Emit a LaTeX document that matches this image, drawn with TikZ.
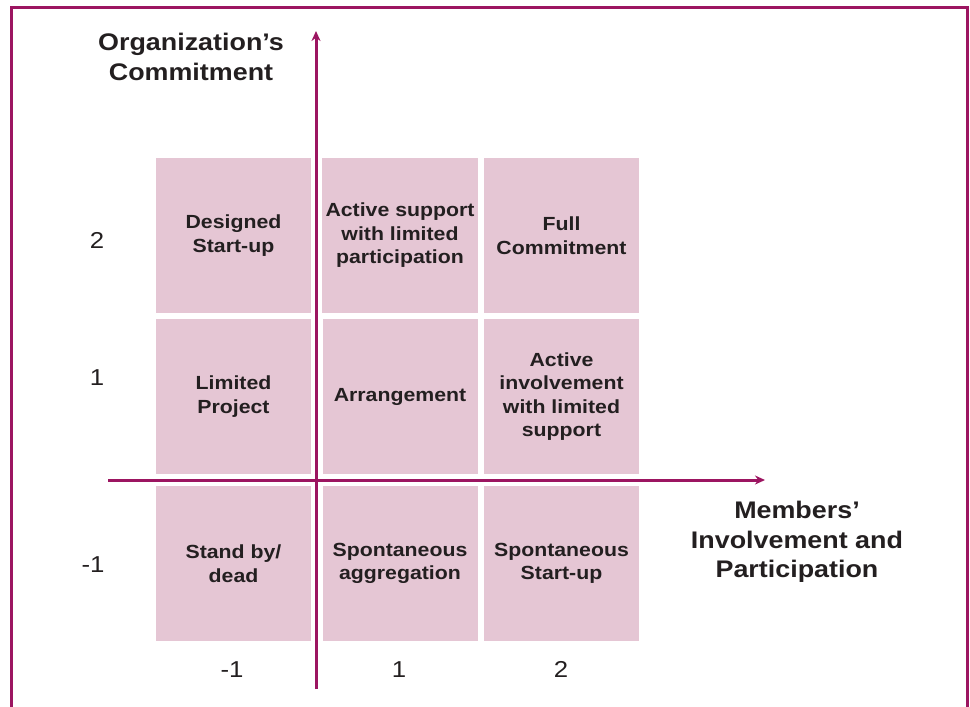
\documentclass[tikz,border=0pt]{standalone}
\usepackage{fontspec}
\setmainfont[FakeStretch=1.12]{Liberation Sans}
\usepackage{tikz}
\usetikzlibrary{arrows.meta}

\definecolor{plum}{HTML}{9C1561}
\definecolor{cellpink}{HTML}{E5C6D4}
\definecolor{ink}{HTML}{231F20}

\tikzset{
    cell/.style={fill=cellpink, minimum width=155pt, minimum height=155pt,
        align=center, text=ink, font=\fontsize{19}{23.5}\selectfont\bfseries},
    axislabel/.style={align=center, text=ink, font=\fontsize{24}{29.5}\selectfont\bfseries},
    tick/.style={text=ink, text height=0.72em, text depth=0pt,
        font=\fontsize{23}{27}\selectfont},
    axis/.style={draw=plum, line width=3pt, -{Stealth[length=10pt,width=9pt]}}
}

\begin{document}
\begin{tikzpicture}[x=1pt, y=-1pt]
        \useasboundingbox (0,0) rectangle (970,707);
        \draw[plum, line width=3pt] (11,707) -- (11,7) -- (967,7) -- (967,707);

        % grid of cells
        \node[cell] (designed) at (233.5,235.5) {Designed\\Start-up};
        \node[cell] (support) at (400,235.5) {Active support\\with limited\\participation};
        \node[cell] (full) at (561.5,235.5) {Full\\Commitment};
        \node[cell] (limited) at (233.5,396.5) {Limited\\Project};
        \node[cell] (arrange) at (400,396.5) {Arrangement};
        \node[cell] (involve) at (561.5,396.5) {Active\\involvement\\with limited\\support};
        \node[cell] (standby) at (233.5,563.5) {Stand by/\\dead};
        \node[cell] (aggreg) at (400,563.5) {Spontaneous\\aggregation};
        \node[cell] (spont) at (561.5,563.5) {Spontaneous\\Start-up};

        % axes
        \coordinate (ybottom) at (316,689);
        \coordinate (ytop) at (316,31);
        \coordinate (xleft) at (108,480);
        \coordinate (xright) at (765,480);
        \draw[axis] (ybottom) -- (ytop);
        \draw[axis] (xleft) -- (xright);

        \node[axislabel] (commit) at (191,57) {Organization’s\\Commitment};
        \node[axislabel] (members) at (797,542) {Members’\\Involvement and\\Participation};

        % tick values
        \node[tick] (r2) at (97,245) {2};
        \node[tick] (r1) at (97,382) {1};
        \node[tick] (rm1) at (93,569) {-1};
        \node[tick] (cm1) at (232,674) {-1};
        \node[tick] (c1) at (399,674) {1};
        \node[tick] (c2) at (561,674) {2};
    \end{tikzpicture}
\end{document}
